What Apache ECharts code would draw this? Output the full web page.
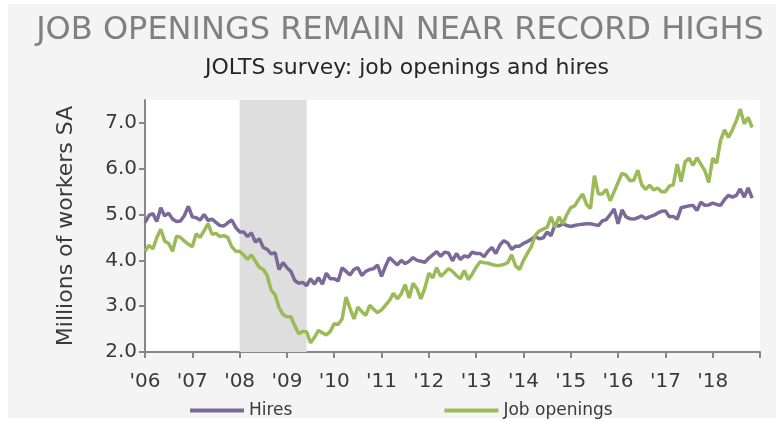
<!DOCTYPE html>
<html>
<head>
<meta charset="utf-8">
<script src="https://cdn.jsdelivr.net/npm/echarts@6/dist/echarts.min.js"></script>
<style>
html, body { margin: 0; padding: 0; background: #fff; }
#wrap { position: relative; width: 781px; height: 422px; }
#panel { position: absolute; left: 8px; top: 4px; width: 768px; height: 414px; background: #f4f4f4; }
#chart { position: absolute; left: 0; top: 0; width: 781px; height: 422px; }
</style>
</head>
<body>
<div id="wrap"><div id="panel"></div><div id="chart"></div></div>
<script>
// monthly, Jan 2006 - Nov 2018, millions SA
const hires = [
  4.82, 4.98, 5.02, 4.85, 5.15, 4.97, 5.03, 4.90, 4.85, 4.86, 4.98, 5.18,
  4.95, 4.93, 4.88, 5.00, 4.87, 4.90, 4.83, 4.76, 4.75, 4.82, 4.88, 4.72,
  4.62, 4.62, 4.52, 4.60, 4.40, 4.47, 4.28, 4.24, 4.14, 4.17, 3.80, 3.95,
  3.84, 3.76, 3.56, 3.50, 3.52, 3.45, 3.60, 3.48, 3.62, 3.48, 3.72, 3.60,
  3.60, 3.55, 3.84, 3.76, 3.68, 3.80, 3.84, 3.67, 3.76, 3.80, 3.82, 3.90,
  3.65, 3.87, 4.06, 3.98, 3.90, 4.00, 3.93, 3.98, 4.06, 4.00, 3.98, 3.96,
  4.05, 4.12, 4.19, 4.09, 4.18, 4.16, 3.99, 4.15, 4.02, 4.10, 4.07, 4.18,
  4.15, 4.15, 4.08, 4.20, 4.28, 4.15, 4.33, 4.43, 4.38, 4.24, 4.31, 4.31,
  4.37, 4.41, 4.46, 4.52, 4.47, 4.49, 4.62, 4.54, 4.78, 4.75, 4.80, 4.76,
  4.74, 4.76, 4.78, 4.79, 4.80, 4.80, 4.78, 4.76, 4.86, 4.89, 5.00, 5.12,
  4.80, 5.10, 4.95, 4.91, 4.90, 4.93, 4.97, 4.91, 4.95, 4.98, 5.03, 5.07,
  5.08, 4.95, 4.96, 4.90, 5.15, 5.17, 5.19, 5.20, 5.09, 5.27, 5.20, 5.21,
  5.25, 5.22, 5.20, 5.33, 5.42, 5.38, 5.42, 5.56, 5.38, 5.58, 5.36
];
const openings = [
  4.20, 4.33, 4.25, 4.50, 4.68, 4.42, 4.37, 4.20, 4.53, 4.50, 4.42, 4.35,
  4.30, 4.58, 4.50, 4.65, 4.80, 4.57, 4.59, 4.52, 4.54, 4.50, 4.30, 4.20,
  4.20, 4.12, 4.02, 4.12, 3.98, 3.85, 3.80, 3.67, 3.35, 3.25, 2.97, 2.82,
  2.77, 2.77, 2.57, 2.40, 2.45, 2.44, 2.20, 2.32, 2.47, 2.42, 2.37, 2.45,
  2.62, 2.60, 2.72, 3.20, 2.95, 2.72, 2.98, 2.88, 2.80, 3.02, 2.93, 2.86,
  2.92, 3.02, 3.12, 3.28, 3.16, 3.27, 3.47, 3.18, 3.50, 3.38, 3.16, 3.40,
  3.72, 3.62, 3.84, 3.65, 3.73, 3.82, 3.76, 3.67, 3.60, 3.78, 3.58, 3.70,
  3.85, 3.97, 3.95, 3.94, 3.91, 3.89, 3.89, 3.91, 3.95, 4.12, 3.88, 3.80,
  4.00, 4.15, 4.30, 4.55, 4.64, 4.68, 4.72, 4.95, 4.72, 4.95, 4.80, 5.00,
  5.15, 5.19, 5.33, 5.45, 5.22, 5.13, 5.85, 5.45, 5.45, 5.55, 5.30, 5.50,
  5.70, 5.90, 5.86, 5.74, 5.75, 5.97, 5.65, 5.55, 5.64, 5.54, 5.58, 5.50,
  5.50, 5.62, 5.65, 6.10, 5.72, 6.15, 6.23, 6.07, 6.24, 6.10, 5.96, 5.70,
  6.23, 6.12, 6.62, 6.85, 6.68, 6.85, 7.05, 7.30, 6.98, 7.12, 6.90
];
const yearLabels = ["'06", "'07", "'08", "'09", "'10", "'11", "'12", "'13", "'14", "'15", "'16", "'17", "'18"];
const yTicks = [2, 3, 4, 5, 6, 7];
const recession = ['2008-01', '2009-06'];

// month categories Jan 2006 .. Jan 2019 (last one only closes the axis)
const months = [];
for (let y = 2006; y <= 2019; y++) {
  for (let m = 1; m <= 12; m++) {
    months.push(y + '-' + (m < 10 ? '0' + m : m));
    if (y === 2019) break;
  }
}

const axisGray = '#878787';
const textColor = '#3a3a3a';
const font = 'DejaVu Sans';

const chart = echarts.init(document.getElementById('chart'));
chart.setOption({
  animation: false,
  title: [
    {
      text: 'JOB OPENINGS REMAIN NEAR RECORD HIGHS',
      left: 395, top: 10, textAlign: 'center',
      textStyle: { fontFamily: font, fontSize: 32, fontWeight: 'normal', color: '#808080' }
    },
    {
      text: 'JOLTS survey: job openings and hires',
      left: 402, top: 52, textAlign: 'center',
      textStyle: { fontFamily: font, fontSize: 22, fontWeight: 'normal', color: '#262626' }
    }
  ],
  legend: {
    data: ['Hires', 'Job openings'],
    left: 185, top: 397,
    icon: 'rect', itemWidth: 54, itemHeight: 4, itemGap: 152,
    textStyle: { fontFamily: font, fontSize: 17, color: textColor }
  },
  grid: {
    left: 145, right: 21, top: 100, bottom: 70,
    show: true, backgroundColor: '#fff', borderWidth: 0
  },
  xAxis: {
    type: 'category',
    data: months,
    boundaryGap: false,
    axisLine: { lineStyle: { color: axisGray, width: 2 } },
    axisTick: {
      interval: (i) => i % 12 === 0,
      length: 6,
      lineStyle: { color: axisGray, width: 2 }
    },
    axisLabel: {
      interval: (i) => i % 12 === 0,
      formatter: (v) => yearLabels[+v.slice(0, 4) - 2006] || '',
      fontFamily: font, fontSize: 20, color: textColor, margin: 20
    },
    splitLine: { show: false }
  },
  yAxis: {
    type: 'value',
    min: 2, max: 7.5,
    name: 'Millions of workers SA',
    nameLocation: 'middle',
    nameGap: 68,
    nameTextStyle: { fontFamily: font, fontSize: 22, color: textColor },
    axisLine: { show: true, lineStyle: { color: axisGray, width: 2 } },
    axisTick: { show: true, customValues: yTicks, length: 6, lineStyle: { color: axisGray, width: 2 } },
    axisLabel: {
      customValues: yTicks,
      formatter: (v) => v.toFixed(1),
      fontFamily: font, fontSize: 20, color: textColor, margin: 8
    },
    splitLine: { show: false }
  },
  series: [
    {
      name: 'recession',
      type: 'line',
      data: [],
      z: 1,
      silent: true,
      markArea: {
        silent: true,
        itemStyle: { color: '#dedede' },
        data: [[{ xAxis: recession[0] }, { xAxis: recession[1] }]]
      }
    },
    {
      name: 'Hires',
      type: 'line',
      data: hires,
      z: 2,
      showSymbol: false,
      color: '#7b6a99',
      lineStyle: { width: 3.5, color: '#7b6a99' }
    },
    {
      name: 'Job openings',
      type: 'line',
      data: openings,
      z: 3,
      showSymbol: false,
      color: '#9bbb59',
      lineStyle: { width: 3.5, color: '#9bbb59' }
    }
  ]
});
</script>
</body>
</html>
